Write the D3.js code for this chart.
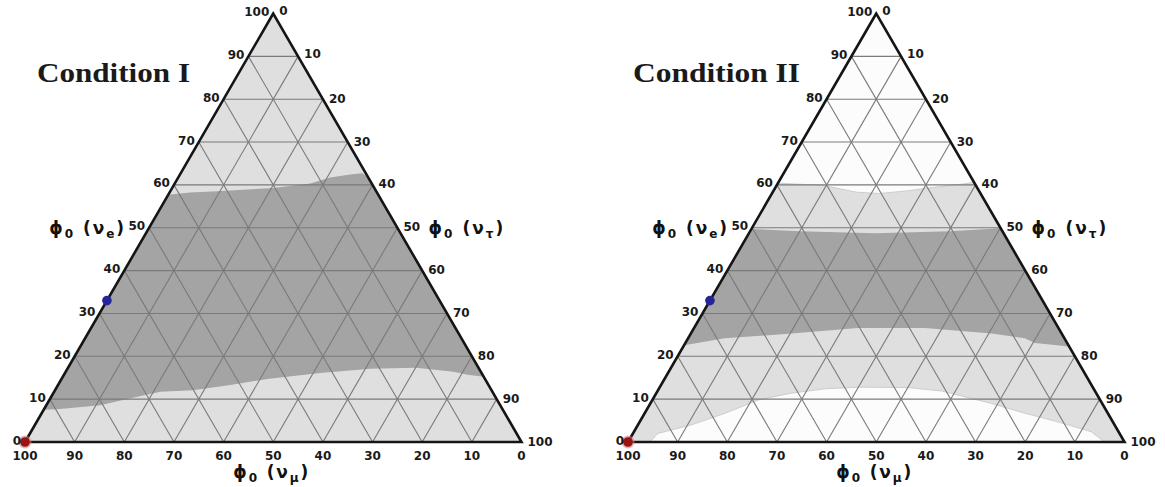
<!DOCTYPE html>
<html>
<head>
<meta charset="utf-8">
<script src="https://cdn.jsdelivr.net/npm/d3@7"></script>
<style>
  body { margin: 0; background: #fff; }
  svg { display: block; }
</style>
</head>
<body>
<svg id="chart" width="1165" height="487"></svg>
<script>
// Tick values shared by all three ternary axes (percent)
const ticks = d3.range(0, 101, 10);
const panelTitles = ["Condition I", "Condition II"];

// Region boundaries as [νe, ντ] pairs in percent (νμ = 100 − νe − ντ)
// Condition I: the dark band
const c1BandTop = [[57.7, 0], [58.2, 4.2], [58.5, 9.4], [59.3, 20.4], [60.3, 27.3], [61.7, 30.6],
                   [62.4, 34.3], [62.7, 36.6], [61.7, 38.3]];
const c1BandBottom = [[7.5, 0], [7.7, 3.2], [8.6, 10.8], [10.3, 16.6], [11.7, 21.4], [12.1, 27.8],
                      [13.3, 34.7], [14.7, 41.4], [16.1, 51.4], [17.1, 61.0], [17.3, 70.1],
                      [16.4, 78.1], [15.7, 81.3], [15.2, 84.8]];

// Condition II: upper white cap, dark band, lower white pocket
const c2CapBottom = [[60.4, 0], [59.9, 9.3], [58.3, 16.9], [58.0, 21.7], [58.6, 26.8], [59.4, 31.7],
                     [60.3, 38.0], [60.7, 39.3]];
const c2BandTop = [[49.7, 0], [49.2, 10.0], [48.7, 25.5], [49.2, 40.2], [49.9, 50.1]];
const c2BandBottom = [[22.6, 0], [24.2, 7.4], [25.3, 20.3], [26.6, 33.0], [26.6, 46.5], [25.3, 60.6],
                      [24.2, 67.8], [23.1, 70.4], [22.6, 75.2], [22.2, 77.8]];
const c2PocketTop = [[0, 4.4], [2.0, 5.0], [4.0, 10.8], [6.7, 16.2], [9.8, 21.3], [11.4, 27.2],
                     [12.4, 33.4], [12.8, 39.9], [12.7, 50.0], [11.9, 57.2], [9.0, 68.7],
                     [6.7, 76.6], [4.7, 84.2], [2.4, 92.1], [0, 96.0]];

// Marked flavour compositions [νe, ντ]
const markerPoints = [[33, 0], [0, 0]];
const markerColors = ["#25259a", "#9b1414"];

const colLight = "#dfdfdf", colDark = "#a4a4a4", colWhite = "#fcfcfc";

const svg = d3.select("#chart");
const W = 496.5, yB = 442, yT = 13.5;
const x = d3.scaleLinear().domain([0, 100]).range([0, W]);
const y = d3.scaleLinear().domain([0, 100]).range([yB, yT]);
// ternary [νe, ντ] -> pixel
const proj = ([e, t]) => [x(t + e / 2), y(e)];
const line = d3.line().x(d => proj(d)[0]).y(d => proj(d)[1]);

const panels = [
  { x0: 25, title: panelTitles[0], titleLen: 153 },
  { x0: 628, title: panelTitles[1], titleLen: 167 }
];

const labelFont = "DejaVu Sans";

function drawPanel(p, idx) {
  const g = svg.append("g").attr("transform", `translate(${p.x0},0)`);
  const tri = [[100, 0], [0, 0], [0, 100]];

  // background fill
  g.append("path").attr("d", line(tri) + "Z").attr("fill", colLight);

  if (idx === 0) {
    g.append("path")
      .attr("d", line(c1BandTop.concat(c1BandBottom.slice().reverse())) + "Z")
      .attr("fill", colDark);
  } else {
    g.append("path")
      .attr("d", line(c2CapBottom.concat([[100, 0]])) + "Z")
      .attr("fill", colWhite);
    g.append("path")
      .attr("d", line(c2BandTop.concat(c2BandBottom.slice().reverse())) + "Z")
      .attr("fill", colDark);
    g.append("path")
      .attr("d", line(c2PocketTop) + "Z")
      .attr("fill", colWhite);
    [c2CapBottom, c2PocketTop].forEach(b =>
      g.append("path").attr("d", line(b)).attr("fill", "none")
        .attr("stroke", "#c4c4c4").attr("stroke-width", 0.8));
  }

  // grid
  const inner = ticks.slice(1, -1);
  const grid = g.append("g").attr("stroke", "#7a7a7a").attr("stroke-width", 1.1).attr("fill", "none");
  inner.forEach(v => {
    grid.append("path").attr("d", line([[v, 0], [v, 100 - v]]));          // constant νe
    grid.append("path").attr("d", line([[100 - v, v], [0, v]]));          // constant ντ
    grid.append("path").attr("d", line([[100 - v, 0], [0, 100 - v]]));    // constant νμ
  });

  // frame
  g.append("path").attr("d", line(tri) + "Z")
    .attr("fill", "none").attr("stroke", "#151515").attr("stroke-width", 2.6)
    .attr("stroke-linejoin", "miter");

  // markers
  markerPoints.forEach((m, i) => {
    const [px, py] = proj(m);
    if (i === 1) {
      g.append("circle").attr("cx", px).attr("cy", py).attr("r", 6.5)
        .attr("fill", "#d98080").attr("opacity", 0.6);
    }
    g.append("circle").attr("cx", px).attr("cy", py).attr("r", 4.8)
      .attr("fill", markerColors[i]);
  });

  // tick labels
  const lab = g.append("g").attr("font-family", labelFont).attr("font-size", 12)
    .attr("font-weight", "bold").attr("fill", "#1a1a1a");
  ticks.forEach(v => {
    // νe along the left edge
    let [px, py] = proj([v, 0]);
    lab.append("text").attr("x", px - 4).attr("y", py - 1)
      .attr("text-anchor", "end").attr("dominant-baseline", "middle").text(v);
    // ντ along the right edge
    [px, py] = proj([100 - v, v]);
    lab.append("text").attr("x", px + 6).attr("y", py - (v < 15 ? 2 : 0))
      .attr("text-anchor", "start").attr("dominant-baseline", "middle").text(v);
    // νμ along the bottom
    [px, py] = proj([0, 100 - v]);
    lab.append("text").attr("x", px).attr("y", yB + 14)
      .attr("text-anchor", "middle").attr("dominant-baseline", "middle").text(v);
  });

  // axis titles
  function axisTitle(xp, yp, sub) {
    const t = g.append("text").attr("x", xp).attr("y", yp)
      .attr("text-anchor", "start").attr("font-family", labelFont)
      .attr("font-size", 17).attr("font-weight", "bold").attr("fill", "#111")
      .attr("textLength", 75).attr("lengthAdjust", "spacing");
    t.append("tspan").text("ϕ");
    t.append("tspan").attr("font-size", 12).attr("dy", 4).text("0");
    t.append("tspan").attr("dy", -4).text(" (ν");
    t.append("tspan").attr("font-size", 12).attr("dy", 4).text(sub);
    t.append("tspan").attr("dy", -4).text(")");
    return t;
  }
  let [ex, ey] = proj([50, 0]);
  axisTitle(ex - 100, ey + 6, "e");
  [ex, ey] = proj([50, 50]);
  axisTitle(ex + 31, ey + 6, "τ");
  [ex, ey] = proj([0, 50]);
  axisTitle(ex - 40, 478, "μ");

  // panel title
  g.append("text").attr("x", idx === 0 ? 12 : 5).attr("y", 82)
    .attr("font-family", "Liberation Serif").attr("font-weight", "bold")
    .attr("font-size", 28).attr("fill", "#1a1a1a")
    .attr("textLength", p.titleLen).attr("lengthAdjust", "spacingAndGlyphs")
    .text(p.title);
}

panels.forEach(drawPanel);
</script>
</body>
</html>
